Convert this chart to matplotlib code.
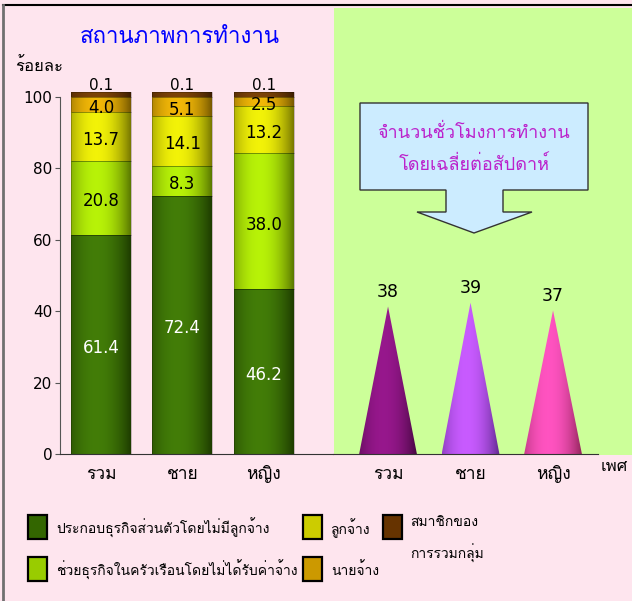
import numpy as np
import matplotlib
matplotlib.use('Agg')
import matplotlib.pyplot as plt
from matplotlib import font_manager
from matplotlib.ft2font import FT2Font
from matplotlib.patches import Rectangle, Polygon
from matplotlib.lines import Line2D
from matplotlib.colors import to_rgb

# ---- data ----
groups = ['รวม', 'ชาย', 'หญิง']
status_names = ['ประกอบธุรกิจส่วนตัวโดยไม่มีลูกจ้าง',
                'ช่วยธุรกิจในครัวเรือนโดยไม่ได้รับค่าจ้าง',
                'ลูกจ้าง', 'นายจ้าง', 'สมาชิกของ\nการรวมกลุ่ม']
own_account = [61.4, 72.4, 46.2]
family_worker = [20.8, 8.3, 38.0]
employee = [13.7, 14.1, 13.2]
employer = [4.0, 5.1, 2.5]
group_member = [0.1, 0.1, 0.1]
hours = [38, 39, 37]
yticks = [0, 20, 40, 60, 80, 100]

status_colors = ['#336600', '#99CC00', '#CCCC00', '#CC9900', '#663300']
cone_colors = ['#6E0C66', '#9440E0', '#E83A8E']


# find a font with Thai glyphs
def thai_font():
    for f in font_manager.fontManager.ttflist:
        try:
            if 0x0E01 in FT2Font(f.fname).get_charmap():
                return f.name
        except Exception:
            pass
    return None


tf = thai_font()
fams = ['DejaVu Sans']
if tf:
    fams.append(tf)
plt.rcParams['font.family'] = fams

W, H = 632, 601
fig = plt.figure(figsize=(W / 100, H / 100), dpi=100)
fig.patch.set_facecolor('#FEE5EE')


def fx(x):
    return x / W


def fy(y):
    return 1 - y / H


# green panel (behind the axes)
fig.patches.append(Rectangle((fx(334), fy(455)), fx(632 - 334), 447 / H,
                             transform=fig.transFigure, facecolor='#CCFF99',
                             edgecolor='none', zorder=-2))
# frame lines
fig.lines.append(Line2D([fx(3), 1], [fy(5), fy(5)], transform=fig.transFigure, color='black', lw=1.5))
fig.lines.append(Line2D([fx(3), fx(3)], [0, fy(5)], transform=fig.transFigure, color='#707070', lw=2))


def shade(color, n=80, lo=0.55, hi=1.15):
    c = np.array(to_rgb(color))
    t = np.linspace(0, 1, n)
    p = np.clip(1 - ((t - 0.42) / 0.6) ** 2, 0, 1)
    dark = c * lo
    light = np.clip(c * hi + 0.03, 0, 1)
    return (dark[None, :] * (1 - p[:, None]) + light[None, :] * p[:, None])[None, :, :]


# ---- left: stacked cylinders ----
ax = fig.add_axes([fx(60), 1 - 454 / H, fx(333 - 60), 110 * 3.57 / H])
ax.set_facecolor('none')
x = np.arange(len(groups))
bw = 0.736
series = [own_account, family_worker, employee, employer, group_member]
bottom = np.zeros(len(groups))
for k, vals in enumerate(series):
    for i in range(len(groups)):
        h = vals[i] if k < 4 else max(vals[i], 1.4)
        ax.imshow(shade(status_colors[k]), extent=(x[i] - bw / 2, x[i] + bw / 2, bottom[i], bottom[i] + h),
                  aspect='auto', zorder=2, interpolation='bilinear')
        ax.add_patch(Rectangle((x[i] - bw / 2, bottom[i]), bw, h, facecolor='none',
                               edgecolor=(0, 0, 0, 0.25), lw=0.6, zorder=3))
        if k < 4:
            ax.text(x[i], bottom[i] + vals[i] / 2 - 1.0, f'{vals[i]:.1f}', ha='center', va='center',
                    fontsize=12, color='white' if k == 0 else 'black', zorder=4)
        else:
            ax.text(x[i], bottom[i] + 3.2, f'{vals[i]:.1f}', ha='center', va='center',
                    fontsize=11, color='black', zorder=4)
    bottom += np.array(vals)

ax.set_xlim(-0.503, 2.85)
ax.set_ylim(0, 110)
ax.set_yticks(yticks)
ax.tick_params(axis='y', labelsize=11, length=3.5, color='#555555', pad=2)
ax.set_xticks(x)
ax.set_xticklabels(groups, fontsize=12.5)
ax.tick_params(axis='x', length=0, pad=8)
for s in ['top', 'right']:
    ax.spines[s].set_visible(False)
ax.spines['left'].set_bounds(0, 100)
ax.spines['left'].set_color('#555555')
ax.spines['bottom'].set_color('#333333')
fig.text(fx(15), fy(66), 'ร้อยละ', fontsize=12, va='center', ha='left')
fig.text(fx(180), fy(37), 'สถานภาพการทำงาน', fontsize=16, color='#0000FF',
         ha='center', va='center')

# ---- right: cones ----
ax2 = fig.add_axes([fx(333), 1 - 454 / H, fx(598 - 333), 357 / H])
ax2.set_facecolor('none')
hw = 0.35
for i in range(len(groups)):
    im = ax2.imshow(shade(cone_colors[i], lo=0.6, hi=1.3), extent=(x[i] - hw, x[i] + hw, 0, hours[i]),
                    aspect='auto', zorder=2, interpolation='bilinear')
    tri = Polygon([(x[i] - hw, 0), (x[i], hours[i]), (x[i] + hw, 0)], closed=True,
                  facecolor='none', edgecolor='none', transform=ax2.transData)
    ax2.add_patch(tri)
    im.set_clip_path(tri)
    ax2.text(x[i], hours[i] + 3.7, str(hours[i]), ha='center', va='center', fontsize=12.5)
ax2.set_xlim(-0.667, 2.545)
ax2.set_ylim(0, 92)
ax2.set_xticks(x)
ax2.set_xticklabels(groups, fontsize=12.5)
ax2.tick_params(axis='x', length=0, pad=8)
ax2.set_yticks([])
for s in ['top', 'right', 'left']:
    ax2.spines[s].set_visible(False)
ax2.spines['bottom'].set_color('#333333')
fig.text(fx(601), fy(466), 'เพศ', fontsize=12, ha='left', va='center')

# callout arrow box
pts = [(360, 103), (588, 103), (588, 190), (503, 190), (503, 212), (532, 212), (474, 233),
       (417, 212), (446, 212), (446, 190), (360, 190)]
fig.patches.append(Polygon([(fx(a), fy(b)) for a, b in pts], closed=True, transform=fig.transFigure,
                           facecolor='#CCECFF', edgecolor='#333333', lw=1, zorder=1))
fig.text(fx(474), fy(133), 'จำนวนชั่วโมงการทำงาน', fontsize=13, color='#BB22CC', ha='center', va='center')
fig.text(fx(474), fy(165), 'โดยเฉลี่ยต่อสัปดาห์', fontsize=13, color='#BB22CC', ha='center', va='center')

# ---- legend ----
leg_pos = [(28, 515), (28, 557), (303, 515), (303, 557), (383, 515)]
for k, (lx, ly) in enumerate(leg_pos):
    fig.patches.append(Rectangle((fx(lx), fy(ly + 24)), fx(19), 24 / H, transform=fig.transFigure,
                                 facecolor=status_colors[k], edgecolor='black', lw=1.6))
    lines = status_names[k].split('\n')
    for j, line in enumerate(lines):
        if len(lines) == 1:
            fig.text(fx(lx + 28), fy(ly + 13), line, fontsize=10, ha='left', va='center')
        else:
            fig.text(fx(lx + 27), fy(ly + 7 + 31 * j), line, fontsize=10, ha='left', va='center')

fig.savefig('out.png', dpi=100, facecolor=fig.get_facecolor())
